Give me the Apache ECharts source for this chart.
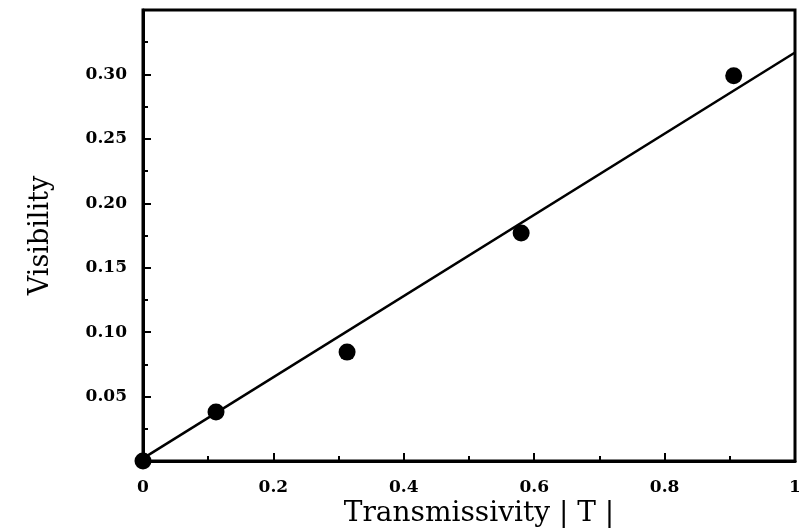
<!DOCTYPE html>
<html><head><meta charset="utf-8">
<script src="https://cdn.jsdelivr.net/npm/echarts@6/dist/echarts.min.js"></script>
<style>html,body{margin:0;padding:0;background:#fff}#c{width:799px;height:528px}</style>
</head><body><div id="c"></div>
<script>
const transmissivity = [0, 0.112, 0.313, 0.58, 0.906];
const visibility = [0.0, 0.038, 0.0845, 0.177, 0.299];
const fitX = [0, 1];
const fitY = [0.002, 0.317];
const xTitle = 'Transmissivity | T |';
const yTitle = 'Visibility';

const chart = echarts.init(document.getElementById('c'));
const labelFont = {fontFamily: 'DejaVu Serif', fontWeight: 'bold', fontSize: 17, color: '#000'};
chart.setOption({
  animation: false,
  grid: {left: 143, right: 4, top: 10, bottom: 67, show: true, borderColor: '#000', borderWidth: 3,
         outerBoundsMode: 'none', containLabel: false},
  xAxis: [{
    type: 'value', min: 0, max: 1, interval: 0.2,
    name: xTitle, nameLocation: 'middle', nameGap: 39, nameMoveOverlap: false,
    nameTextStyle: {fontFamily: 'DejaVu Serif', fontSize: 28, color: '#000', padding: [0, 0, 0, 20]},
    axisLine: {show: true, lineStyle: {color: '#000', width: 3}},
    axisTick: {show: true, inside: true, length: 8, lineStyle: {color: '#000', width: 2}},
    minorTick: {show: true, splitNumber: 2, length: 5, lineStyle: {color: '#000', width: 2}},
    splitLine: {show: false},
    axisLabel: Object.assign({margin: 18, formatter: v => v === 0 ? '0' : (v === 1 ? '1' : v.toFixed(1))}, labelFont)
  }],
  yAxis: [{
    type: 'value', min: 0, max: 0.35, interval: 0.05,
    name: yTitle, nameLocation: 'middle', nameGap: 89, nameRotate: 90, nameMoveOverlap: false,
    nameTextStyle: {fontFamily: 'DejaVu Serif', fontSize: 27, color: '#000'},
    axisLine: {show: true, lineStyle: {color: '#000', width: 3}},
    axisTick: {show: true, inside: true, length: 8, lineStyle: {color: '#000', width: 2}},
    minorTick: {show: true, splitNumber: 2, length: 5, lineStyle: {color: '#000', width: 2}},
    splitLine: {show: false},
    axisLabel: Object.assign({margin: 16, formatter: v => (v < 0.001 || v > 0.349) ? '' : v.toFixed(2)}, labelFont)
  }],
  series: [
    {type: 'line', data: fitX.map((x, i) => [x, fitY[i]]), showSymbol: false, symbol: 'none',
     lineStyle: {color: '#000', width: 2.5}, z: 2},
    {type: 'scatter', data: transmissivity.map((x, i) => [x, visibility[i]]), symbolSize: 17,
     itemStyle: {color: '#000', opacity: 1}, z: 3}
  ]
});
</script></body></html>
